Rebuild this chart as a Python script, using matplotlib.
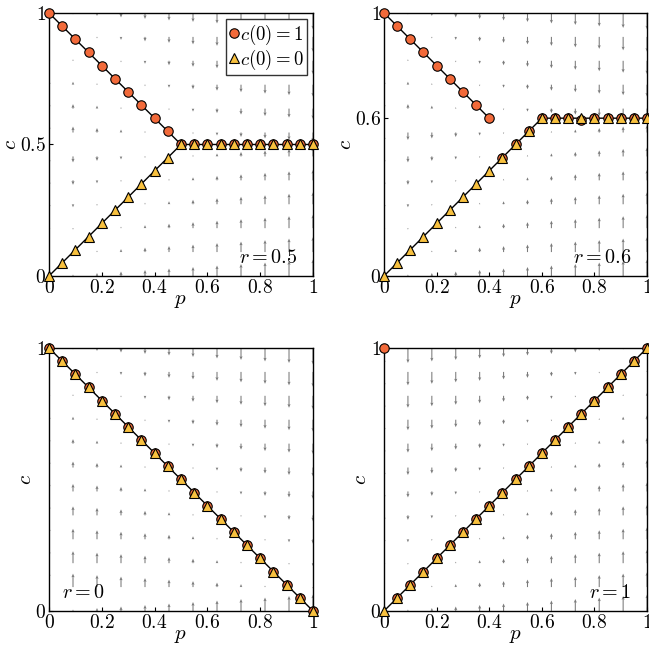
import numpy as np
import matplotlib
matplotlib.use("Agg")
import matplotlib.pyplot as plt

plt.rcParams['mathtext.fontset'] = 'cm'
plt.rcParams['font.family'] = 'serif'
plt.rcParams['font.size'] = 14

# sampled p values for the simulation markers
p_vals = [0.0, 0.05, 0.1, 0.15, 0.2, 0.25, 0.3, 0.35, 0.4, 0.45, 0.5,
          0.55, 0.6, 0.65, 0.7, 0.75, 0.8, 0.85, 0.9, 0.95, 1.0]

# r = 0.5
circ_r05 = [1.0, 0.95, 0.9, 0.85, 0.8, 0.75, 0.7, 0.65, 0.6, 0.55, 0.5,
            0.5, 0.5, 0.5, 0.5, 0.503, 0.5, 0.5, 0.5, 0.5, 0.5]
tri_r05 = [0.0, 0.05, 0.1, 0.15, 0.2, 0.25, 0.3, 0.35, 0.4, 0.45, 0.5,
           0.5, 0.5, 0.5, 0.5, 0.5, 0.5, 0.5, 0.5, 0.5, 0.5]
# r = 0.6
circ_r06 = [1.0, 0.95, 0.9, 0.85, 0.8, 0.75, 0.7, 0.65, 0.6, 0.45, 0.5,
            0.55, 0.6, 0.6, 0.6, 0.593, 0.6, 0.6, 0.6, 0.6, 0.6]
tri_r06 = [0.0, 0.05, 0.1, 0.15, 0.2, 0.25, 0.3, 0.35, 0.4, 0.45, 0.5,
           0.55, 0.6, 0.6, 0.6, 0.6, 0.6, 0.6, 0.6, 0.6, 0.6]
# r = 0
circ_r0 = [1.0, 0.95, 0.9, 0.85, 0.8, 0.75, 0.7, 0.65, 0.6, 0.55, 0.5,
           0.45, 0.4, 0.35, 0.3, 0.25, 0.2, 0.15, 0.1, 0.05, 0.0]
tri_r0 = [1.0, 0.95, 0.9, 0.85, 0.8, 0.75, 0.7, 0.65, 0.6, 0.55, 0.5,
          0.45, 0.4, 0.35, 0.3, 0.25, 0.2, 0.15, 0.1, 0.05, 0.0]
# r = 1
circ_r1 = [1.0, 0.05, 0.1, 0.15, 0.2, 0.25, 0.3, 0.35, 0.4, 0.45, 0.5,
           0.55, 0.6, 0.65, 0.7, 0.75, 0.8, 0.85, 0.9, 0.95, 1.0]
tri_r1 = [0.0, 0.05, 0.1, 0.15, 0.2, 0.25, 0.3, 0.35, 0.4, 0.45, 0.5,
          0.55, 0.6, 0.65, 0.7, 0.75, 0.8, 0.85, 0.9, 0.95, 1.0]

# theoretical branches (vertices)
branches_r05 = [([0, 0.5], [1, 0.5]), ([0, 0.5, 1], [0, 0.5, 0.5])]
branches_r06 = [([0, 0.4], [1, 0.6]), ([0, 0.6, 1], [0, 0.6, 0.6])]
branches_r0 = [([0, 1], [1, 0])]
branches_r1 = [([0, 1], [0, 1])]

r_values = [0.5, 0.6, 0.0, 1.0]
r_labels = ['$r=0.5$', '$r=0.6$', '$r=0$', '$r=1$']
yticks_list = [[0, 0.5, 1], [0, 0.6, 1], [0, 1], [0, 1]]
ytick_labels = [['$0$', '$0.5$', '$1$'], ['$0$', '$0.6$', '$1$'],
                ['$0$', '$1$'], ['$0$', '$1$']]
xticks = [0, 0.2, 0.4, 0.6, 0.8, 1]
xtick_labels = ['$0$', '$0.2$', '$0.4$', '$0.6$', '$0.8$', '$1$']

circ_all = [circ_r05, circ_r06, circ_r0, circ_r1]
tri_all = [tri_r05, tri_r06, tri_r0, tri_r1]
branches_all = [branches_r05, branches_r06, branches_r0, branches_r1]

circ_color = '#f26a3a'
tri_color = '#f8c13f'

fig = plt.figure(figsize=(6.49, 6.46), dpi=100)
positions = [[0.0755, 0.5728, 0.4068, 0.4071], [0.5917, 0.5728, 0.4053, 0.4071],
             [0.0755, 0.0542, 0.4068, 0.4071], [0.5917, 0.0542, 0.4053, 0.4071]]
text_pos = [(0.94, 0.07, 'right'), (0.94, 0.07, 'right'),
            (0.05, 0.07, 'left'), (0.94, 0.07, 'right')]

# quiver grid for dc/dt
gp, gc = np.meshgrid(np.linspace(0, 1, 12), np.linspace(0, 1, 12))

for i in range(4):
    ax = fig.add_axes(positions[i])
    r = r_values[i]
    target = np.where(gc > r, 1 - gp, gp)
    dv = target - gc
    ax.quiver(gp, gc, np.zeros_like(dv), dv, angles='xy', scale_units='xy',
              scale=16, color='#7a7a7a', width=0.004, headwidth=3,
              headlength=3.5, headaxislength=3, zorder=1)
    for bp, bc in branches_all[i]:
        ax.plot(bp, bc, color='black', lw=1.0, zorder=2)
    ax.plot(p_vals, circ_all[i], 'o', ms=6.8, mfc=circ_color, mec='black',
            mew=0.8, clip_on=False, zorder=3, label='$c(0)=1$')
    ax.plot(p_vals, tri_all[i], '^', ms=7.4, mfc=tri_color, mec='black',
            mew=0.8, clip_on=False, zorder=4, label='$c(0)=0$')
    ax.set_xlim(0, 1)
    ax.set_ylim(0, 1)
    ax.set_xticks(xticks)
    ax.set_xticklabels(xtick_labels)
    ax.set_yticks(yticks_list[i])
    ax.set_yticklabels(ytick_labels[i])
    ax.tick_params(direction='in', length=3, width=0.8, pad=2, labelsize=14)
    ax.set_xlabel('$p$', fontsize=15, labelpad=-4)
    ax.set_ylabel('$c$', fontsize=15, labelpad=0)
    for s in ax.spines.values():
        s.set_linewidth(1.0)
    tx, ty, ha = text_pos[i]
    ax.text(tx, ty, r_labels[i], ha=ha, va='center', fontsize=14.5, zorder=5)
    if i == 0:
        leg = ax.legend(loc='upper right', borderaxespad=0.3, handlelength=0.5,
                        handletextpad=0.05, labelspacing=0.05, borderpad=0.2,
                        fancybox=False, framealpha=1, edgecolor='#333333',
                        fontsize=13.5)
        leg.get_frame().set_linewidth(1.0)
        leg.set_zorder(6)

fig.savefig('out.png', dpi=100)
